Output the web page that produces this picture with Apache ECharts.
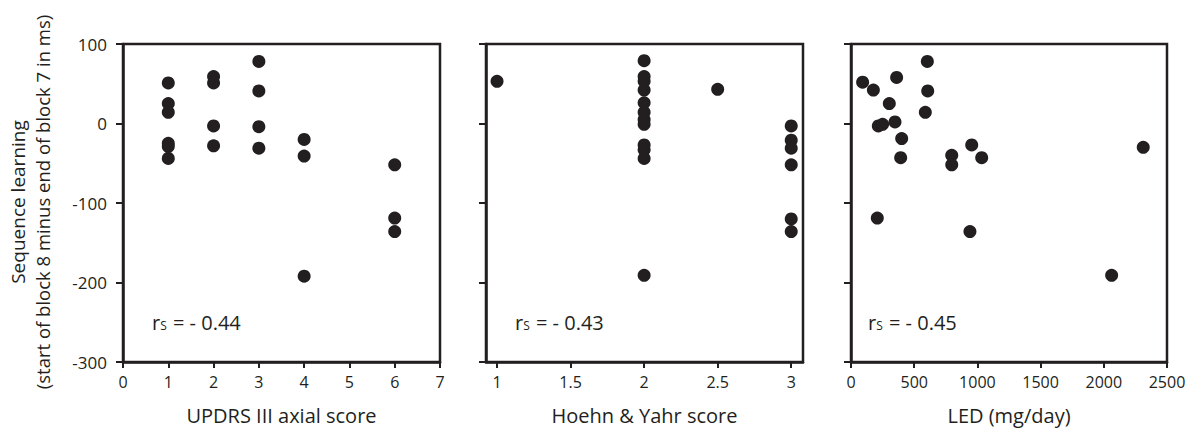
<!DOCTYPE html>
<html>
<head>
<meta charset="utf-8">
<script src="https://cdn.jsdelivr.net/npm/echarts@6/dist/echarts.min.js"></script>
<style>
html,body{margin:0;padding:0;background:#fff;}
#chart{width:1193px;height:430px;}
</style>
</head>
<body>
<div id="chart"></div>
<script>
// ---- data ----
var updrsX = [1, 1, 1, 1, 1, 1, 2, 2, 2, 2, 3, 3, 3, 3, 4, 4, 4, 6, 6, 6];
var updrsY = [51, 25, 14, -25, -29, -44, 59, 51, -3, -28, 78, 41, -4, -31, -20, -41, -192, -52, -119, -136];

var hyX = [1, 2, 2, 2, 2, 2, 2, 2, 2, 2, 2, 2, 2, 2.5, 3, 3, 3, 3, 3, 3];
var hyY = [53, 79, 59, 53, 42, 26, 14, 5, -1, -27, -33, -44, -191, 43, -3, -21, -31, -52, -120, -136];

var ledX = [92, 177, 361, 604, 607, 303, 588, 216, 250, 348, 401, 393, 797, 797, 955, 1034, 2312, 208, 941, 2062];
var ledY = [52, 42, 58, 78, 41, 25, 14, -3, -1, 2, -19, -43, -40, -52, -27, -43, -30, -119, -136, -191];

var xTitles = ['UPDRS III axial score', 'Hoehn & Yahr score', 'LED (mg/day)'];
var rsValues = ['- 0.44', '- 0.43', '- 0.45'];
var yTitle1 = 'Sequence learning';
var yTitle2 = '(start of block 8 minus end of block 7 in ms)';
var hyTicks = [1, 1.5, 2, 2.5, 3];

function pairs(xs, ys) { return xs.map(function (x, i) { return [x, ys[i]]; }); }

var INK = '#231f20';
var FONT = '"Open Sans", "Noto Sans", sans-serif';

var grids = [
  {left: 123, top: 44, width: 317, height: 318},
  {left: 486, top: 44, width: 317, height: 318},
  {left: 851, top: 44, width: 316, height: 318}
];
grids.forEach(function (g) {
  g.show = true; g.borderColor = INK; g.borderWidth = 2.5; g.backgroundColor = 'transparent';
});

function plain(v) { return String(v); }

function xAxisBase(i) {
  return {
    gridIndex: i, type: 'value',
    name: xTitles[i], nameLocation: 'middle', nameGap: 43,
    nameTextStyle: {color: INK, fontSize: 20, fontFamily: FONT},
    axisLine: {show: true, onZero: false, lineStyle: {color: INK, width: 2.5}},
    axisTick: {show: true, inside: false, length: 6, lineStyle: {color: INK, width: 2}},
    axisLabel: {color: INK, fontSize: 16, fontFamily: FONT, margin: 12, formatter: plain},
    splitLine: {show: false}
  };
}
var xa0 = xAxisBase(0); xa0.min = 0; xa0.max = 7; xa0.interval = 1;
var xa1 = xAxisBase(1); xa1.min = 0.925; xa1.max = 3.08;
xa1.axisTick.customValues = hyTicks; xa1.axisLabel.customValues = hyTicks;
var xa2 = xAxisBase(2); xa2.min = 0; xa2.max = 2500; xa2.interval = 500;

function yAxisBase(i) {
  return {
    gridIndex: i, type: 'value', min: -300, max: 100, interval: 100,
    axisLine: {show: true, onZero: false, lineStyle: {color: INK, width: 2.5}},
    axisTick: {show: true, inside: false, length: 7, lineStyle: {color: INK, width: 2}},
    axisLabel: {show: i === 0, color: INK, fontSize: 17, fontFamily: FONT, margin: 16, formatter: plain},
    splitLine: {show: false}
  };
}

var seriesData = [pairs(updrsX, updrsY), pairs(hyX, hyY), pairs(ledX, ledY)];
var series = seriesData.map(function (d, i) {
  return {
    type: 'scatter', xAxisIndex: i, yAxisIndex: i, data: d,
    symbol: 'circle', symbolSize: 13,
    itemStyle: {color: INK, opacity: 1},
    silent: true
  };
});

var rsLeft = [152, 515, 868];
var graphics = rsLeft.map(function (x, i) {
  return {
    type: 'text', left: x, top: 312, silent: true,
    style: {
      text: '{r|r}{s|S}{v| = ' + rsValues[i] + '}',
      rich: {
        r: {fontSize: 20, fontFamily: FONT, fill: INK, verticalAlign: 'bottom'},
        s: {fontSize: 12, fontFamily: FONT, fill: INK, verticalAlign: 'bottom', padding: [0, 1, 1, 0]},
        v: {fontSize: 20, fontFamily: FONT, fill: INK, verticalAlign: 'bottom'}
      },
      fill: INK
    }
  };
});
graphics.push({
  type: 'text', x: 18, y: 202, rotation: Math.PI / 2, silent: true,
  style: {text: yTitle1, fontSize: 19, fontFamily: FONT, fill: INK, align: 'center', verticalAlign: 'middle'}
});
graphics.push({
  type: 'text', x: 42, y: 202, rotation: Math.PI / 2, silent: true,
  style: {text: yTitle2, fontSize: 18.5, fontFamily: FONT, fill: INK, align: 'center', verticalAlign: 'middle'}
});

var chart = echarts.init(document.getElementById('chart'), null, {renderer: 'svg'});
chart.setOption({
  backgroundColor: '#fff',
  animation: false,
  grid: grids,
  xAxis: [xa0, xa1, xa2],
  yAxis: [yAxisBase(0), yAxisBase(1), yAxisBase(2)],
  series: series,
  graphic: graphics
});
</script>
</body>
</html>
